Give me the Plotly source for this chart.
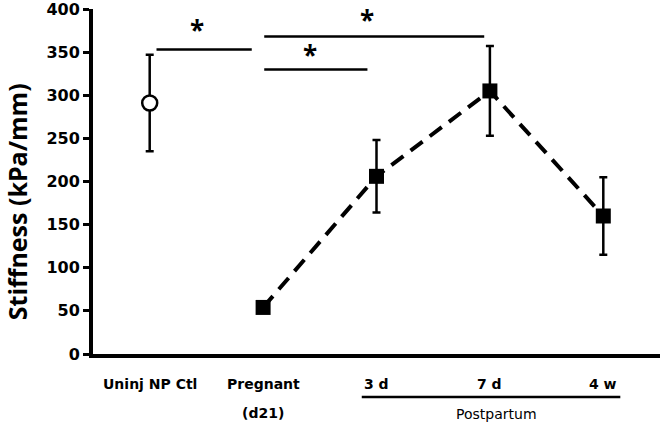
import plotly.graph_objects as go

categories = ["Uninj NP Ctl", "Pregnant<br>(d21)", "3 d", "7 d", "4 w"]
ctl_value = [291]
ctl_err = [56]
series_values = [54, 206, 305, 160]
series_err = [0, 42, 52, 45]
y_ticks = [0, 50, 100, 150, 200, 250, 300, 350, 400]
y_title = "Stiffness (kPa/mm)"
group_label = "Postpartum"
sig_lines = [(0.06, 0.90, 353), (1.01, 2.95, 368), (1.01, 1.92, 330)]
sig_stars = [(0.42, 376), (1.92, 387), (1.41, 347)]

xs = list(range(len(categories)))

fig = go.Figure()
fig.add_trace(go.Scatter(
    x=xs[1:], y=series_values, mode="lines+markers",
    line=dict(color="black", width=4, dash="15px,9px"),
    marker=dict(symbol="square", size=15, color="black"),
    error_y=dict(type="data", array=series_err, color="black", thickness=2.5, width=4),
    showlegend=False,
))
fig.add_trace(go.Scatter(
    x=xs[:1], y=ctl_value, mode="markers",
    marker=dict(symbol="circle", size=15, color="white", line=dict(color="black", width=2.5)),
    error_y=dict(type="data", array=ctl_err, color="black", thickness=2.5, width=4),
    showlegend=False,
))

for x0, x1, yv in sig_lines:
    fig.add_shape(type="line", x0=x0, x1=x1, y0=yv, y1=yv, line=dict(color="black", width=2.5))
for xa, ya in sig_stars:
    fig.add_annotation(x=xa, y=ya, text="*", showarrow=False,
                       font=dict(size=26, color="black", family="Open Sans", weight="bold"))

# category labels (multi-line split manually for wider line spacing)
for i, lab in enumerate(categories):
    for j, part in enumerate(lab.split("<br>")):
        fig.add_annotation(x=i, y=0, yref="paper", yanchor="middle", yshift=-30 - 29 * j, text=part,
                           showarrow=False,
                           font=dict(size=14, color="black", family="DejaVu Sans", weight="bold"))

fig.add_shape(type="line", x0=1.87, x1=4.15, y0=0, y1=0, yref="paper", ysizemode="pixel",
              yanchor=0, line=dict(color="black", width=2.5))
fig.layout.shapes[-1].update(y0=-43, y1=-43)
fig.add_annotation(x=3.06, y=0, yref="paper", yanchor="middle", yshift=-60, text=group_label,
                   showarrow=False, font=dict(size=14, color="black", family="DejaVu Sans"))

fig.add_annotation(x=0, xref="paper", xanchor="center", xshift=-76, y=176, yanchor="middle",
                   text=y_title, textangle=-90, showarrow=False,
                   font=dict(size=25, color="black", family="Open Sans", weight="bold"))

fig.update_layout(
    width=664, height=424,
    margin=dict(l=93, r=4, t=9, b=70),
    plot_bgcolor="white", paper_bgcolor="white",
    font=dict(family="Open Sans", color="black"),
    xaxis=dict(range=[-0.5, 4.5], showticklabels=False, ticks="", showgrid=False,
               zeroline=False, showline=True, linecolor="black", linewidth=4, automargin=False),
    yaxis=dict(range=[0, 400], tickvals=y_ticks, ticks="outside", ticklen=6, tickwidth=3,
               tickcolor="black", showgrid=False, zeroline=False, showline=True,
               linecolor="black", linewidth=4, ticklabeloverflow="allow", automargin=False,
               tickfont=dict(size=16, color="black", family="DejaVu Sans", weight="bold")),
)

fig.write_html("out.html", config={"displayModeBar": False},
               post_script="document.body.style.margin='0';")
